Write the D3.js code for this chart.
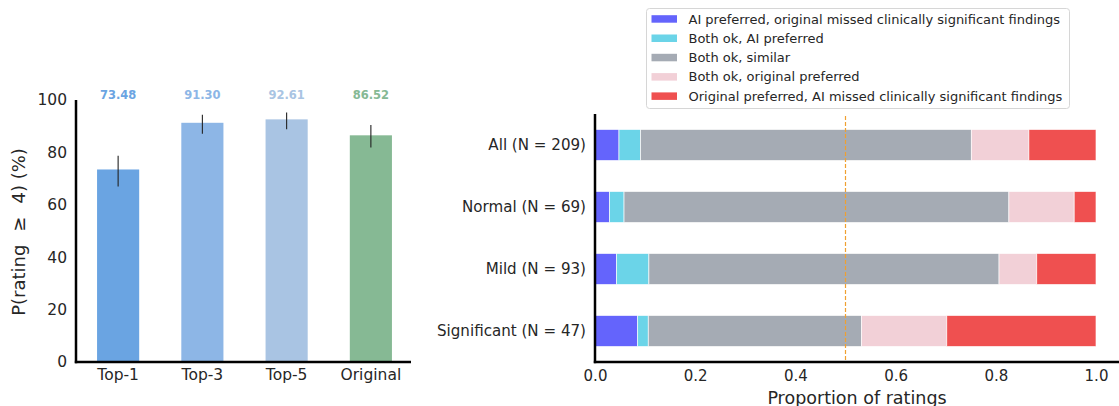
<!DOCTYPE html>
<html>
<head>
<meta charset="utf-8">
<script src="https://cdn.jsdelivr.net/npm/d3@7"></script>
<style>
  html, body { margin: 0; padding: 0; background: #fff; }
  svg { display: block; font-family: "DejaVu Sans", sans-serif; }
</style>
</head>
<body>
<svg id="chart" width="1119" height="406"></svg>
<script>
// ---- Left panel: share of ratings >= 4 per candidate set ----
const methods = ["Top-1", "Top-3", "Top-5", "Original"];
const pctGood = [73.48, 91.30, 92.61, 86.52];
const ciLow  = [67.0, 87.1, 88.8, 81.9];
const ciHigh = [78.7, 94.4, 95.2, 90.5];
const methodColors = ["#6aa4e2", "#8db6e6", "#a9c4e3", "#86b994"];
const pctTicks = [0, 20, 40, 60, 80, 100];

// ---- Right panel: pairwise preference counts per severity group ----
const groups = ["All", "Normal", "Mild", "Significant"];
const groupN = [209, 69, 93, 47];
const outcomes = [
  "AI preferred, original missed clinically significant findings",
  "Both ok, AI preferred",
  "Both ok, similar",
  "Both ok, original preferred",
  "Original preferred, AI missed clinically significant findings"
];
const aiPreferredMissed   = [10, 2, 4, 4];
const okAiPreferred       = [9, 2, 6, 1];
const okSimilar           = [138, 53, 65, 20];
const okOriginalPreferred = [24, 9, 7, 8];
const originalPreferredMissed = [28, 3, 11, 14];
const outcomeColors = ["#6464fc", "#6bd4e8", "#a5abb4", "#f2d0d7", "#ef5050"];
const propTicks = [0, 0.2, 0.4, 0.6, 0.8, 1.0];

const svg = d3.select("#chart");

// ===== Left panel =====
{
  const left = 76, right = 413, top = 100, bottom = 362;
  const x = d3.scaleBand().domain(methods).range([left, right]).paddingInner(0.5).paddingOuter(0.25);
  const y = d3.scaleLinear().domain([0, 100]).range([bottom, top]);
  const g = svg.append("g");

  g.selectAll("rect.bar").data(methods).join("rect")
    .attr("class", "bar")
    .attr("x", d => x(d))
    .attr("width", x.bandwidth())
    .attr("y", (d, i) => y(pctGood[i]))
    .attr("height", (d, i) => y(0) - y(pctGood[i]))
    .attr("fill", (d, i) => methodColors[i]);

  g.selectAll("line.err").data(methods).join("line")
    .attr("class", "err")
    .attr("x1", d => x(d) + x.bandwidth() / 2)
    .attr("x2", d => x(d) + x.bandwidth() / 2)
    .attr("y1", (d, i) => y(ciLow[i]))
    .attr("y2", (d, i) => y(ciHigh[i]))
    .attr("stroke", "#222").attr("stroke-width", 1.1);

  g.selectAll("text.val").data(methods).join("text")
    .attr("class", "val")
    .attr("x", d => x(d) + x.bandwidth() / 2)
    .attr("y", 95)
    .attr("dy", "0.35em")
    .attr("text-anchor", "middle")
    .attr("font-size", 11.5).attr("font-weight", "bold")
    .attr("fill", (d, i) => methodColors[i])
    .text((d, i) => pctGood[i].toFixed(2));

  const ya = g.append("g").attr("transform", `translate(${left},0)`)
    .call(d3.axisLeft(y).tickValues(pctTicks).tickSize(0).tickPadding(9));
  ya.select(".domain").remove();
  ya.selectAll("text").attr("font-size", 15.5).attr("fill", "#262626").attr("font-family", "DejaVu Sans");

  const xa = g.append("g").attr("transform", `translate(0,${bottom})`)
    .call(d3.axisBottom(x).tickSize(0).tickPadding(7));
  xa.select(".domain").remove();
  xa.selectAll("text").attr("font-size", 15.5).attr("fill", "#262626").attr("font-family", "DejaVu Sans");

  g.append("line").attr("x1", left).attr("x2", left).attr("y1", top).attr("y2", bottom + 1.2)
    .attr("stroke", "#000").attr("stroke-width", 2.5);
  g.append("line").attr("x1", left - 1.2).attr("x2", 411).attr("y1", bottom).attr("y2", bottom)
    .attr("stroke", "#000").attr("stroke-width", 2.5);

  // y label with relation spacing around the "≥" sign
  const yl = g.append("text")
    .attr("transform", `translate(19,${(top + bottom) / 2 + 1}) rotate(-90)`)
    .attr("text-anchor", "middle")
    .attr("dy", "0.35em")
    .attr("font-size", 18).attr("fill", "#262626");
  yl.append("tspan").text("P(rating");
  yl.append("tspan").attr("dx", 13).text("\u2265");
  yl.append("tspan").attr("dx", 13).text("4) (%)");
}

// ===== Right panel =====
{
  const left = 595, axisEnd = 1119, top = 114, bottom = 362;
  const x = d3.scaleLinear().domain([0, 1]).range([left, 1096]);
  const y = d3.scaleBand().domain(groups).range([top, bottom]).paddingInner(0.5).paddingOuter(0.25);
  const g = svg.append("g");

  const countsBy = [aiPreferredMissed, okAiPreferred, okSimilar, okOriginalPreferred, originalPreferredMissed];
  const rows = groups.map((grp, gi) => {
    const obj = { group: grp };
    outcomes.forEach((o, k) => { obj[o] = countsBy[k][gi] / groupN[gi]; });
    return obj;
  });
  const stacked = d3.stack().keys(outcomes)(rows);

  g.selectAll("g.layer").data(stacked).join("g")
    .attr("class", "layer")
    .attr("fill", (d, i) => outcomeColors[i])
    .selectAll("rect").data(d => d).join("rect")
    .attr("x", d => x(d[0]))
    .attr("width", d => x(d[1]) - x(d[0]))
    .attr("y", d => y(d.data.group))
    .attr("height", y.bandwidth())
    .attr("stroke", "#fff").attr("stroke-width", 0.8).attr("stroke-opacity", 0.8);

  g.append("line")
    .attr("x1", x(0.5)).attr("x2", x(0.5))
    .attr("y1", top + 2).attr("y2", bottom)
    .attr("stroke", "#f0a030").attr("stroke-width", 1.2)
    .attr("stroke-dasharray", "4,2");

  const ya = g.append("g").attr("transform", `translate(${left},0)`)
    .call(d3.axisLeft(y).tickSize(0).tickPadding(9)
      .tickFormat((d, i) => `${d} (N = ${groupN[i]})`));
  ya.select(".domain").remove();
  ya.selectAll("text").attr("font-size", 15.1).attr("fill", "#262626").attr("font-family", "DejaVu Sans");

  const xa = g.append("g").attr("transform", `translate(0,${bottom})`)
    .call(d3.axisBottom(x).tickValues(propTicks).tickSize(0).tickPadding(8).tickFormat(d3.format(".1f")));
  xa.select(".domain").remove();
  xa.selectAll("text").attr("font-size", 15).attr("fill", "#262626").attr("font-family", "DejaVu Sans");

  g.append("line").attr("x1", left).attr("x2", left).attr("y1", top).attr("y2", bottom + 1.2)
    .attr("stroke", "#000").attr("stroke-width", 2.5);
  g.append("line").attr("x1", left - 1.2).attr("x2", axisEnd).attr("y1", bottom).attr("y2", bottom)
    .attr("stroke", "#000").attr("stroke-width", 2.5);

  // axis title centred on the full axes width
  g.append("text")
    .attr("x", (left + axisEnd) / 2).attr("y", 403.5)
    .attr("text-anchor", "middle")
    .attr("font-size", 17.5).attr("fill", "#262626")
    .text("Proportion of ratings");

  // Legend
  const lg = g.append("g").attr("transform", "translate(646,8)");
  lg.append("rect").attr("x", 0.5).attr("y", 0.5).attr("width", 423).attr("height", 100)
    .attr("rx", 3).attr("fill", "#fff").attr("fill-opacity", 0.8)
    .attr("stroke", "#d6d6d6").attr("stroke-width", 1);
  const items = lg.selectAll("g.item").data(outcomes).join("g")
    .attr("class", "item")
    .attr("transform", (d, i) => `translate(0,${11 + i * 19.3})`);
  items.append("rect").attr("x", 5.5).attr("y", -3.8).attr("width", 25.5).attr("height", 7.5)
    .attr("fill", (d, i) => outcomeColors[i]);
  items.append("text").attr("x", 42.5).attr("dy", "0.35em")
    .attr("font-size", 13).attr("fill", "#262626")
    .text(d => d);
}
</script>
</body>
</html>
